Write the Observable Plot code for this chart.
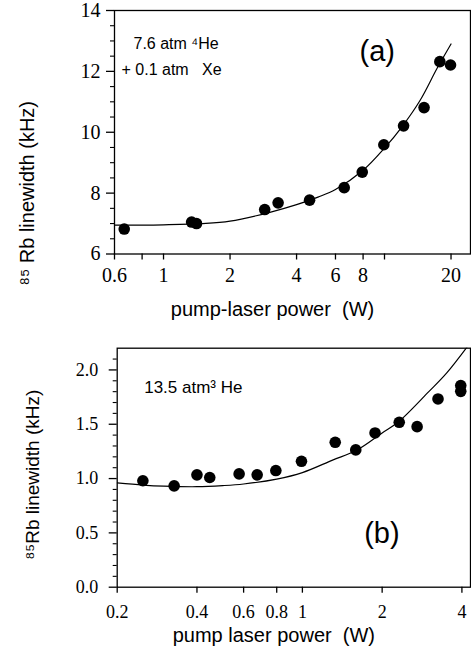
<!DOCTYPE html>
<html>
<head>
<meta charset="utf-8">
<script src="https://cdn.jsdelivr.net/npm/d3@7"></script>
<script src="https://cdn.jsdelivr.net/npm/@observablehq/plot@0.6"></script>
<style>
  html, body { margin: 0; padding: 0; background: #fff; }
  #chart { width: 471px; }
  svg { display: block; }
</style>
</head>
<body>
<div id="chart"></div>
<script>
// ---------- Panel (a) ----------
const powerA = [0.664, 1.34, 1.41, 2.87, 3.30, 4.58, 6.57, 7.93, 9.93, 12.2, 15.1, 17.8, 19.9];
const widthA = [6.82, 7.05, 7.00, 7.46, 7.68, 7.77, 8.18, 8.69, 9.59, 10.21, 10.81, 12.32, 12.21];
const fitPowerA = [0.6, 0.8, 1, 1.5, 2, 3, 4, 5, 6, 8, 10, 12, 14.5, 17.3, 20];
const fitWidthA = [6.95, 6.95, 6.96, 7.0, 7.08, 7.36, 7.62, 7.87, 8.12, 8.75, 9.48, 10.18, 11.05, 12.1, 12.9];
const xTicksA = [0.6, 0.8, 1, 2, 4, 6, 8, 10, 20];
const xLabelsA = [0.6, 1, 2, 4, 6, 8, 20];
const yMajorA = [6, 8, 10, 12, 14];
const yMinorA = [6.5, 7, 7.5, 8.5, 9, 9.5, 10.5, 11, 11.5, 12.5, 13, 13.5];

// ---------- Panel (b) ----------
const powerB = [0.25, 0.328, 0.40, 0.447, 0.577, 0.675, 0.794, 0.992, 1.33, 1.59, 1.88, 2.32, 2.71, 3.25, 3.96, 3.96];
const widthB = [0.98, 0.933, 1.034, 1.01, 1.043, 1.034, 1.074, 1.159, 1.334, 1.264, 1.42, 1.518, 1.478, 1.733, 1.856, 1.803];
const fitPowerB = [0.2, 0.25, 0.3, 0.4, 0.5, 0.6, 0.8, 1, 1.3, 1.6, 2, 2.3, 3, 3.5, 4.3];
const fitWidthB = [0.96, 0.94, 0.93, 0.925, 0.935, 0.95, 0.995, 1.055, 1.17, 1.26, 1.42, 1.52, 1.8, 1.97, 2.25];
const xTicksB = [0.2, 0.4, 0.6, 0.8, 1, 2, 4];
const xLabelsB = [0.2, 0.4, 0.6, 0.8, 1, 2, 4];
const yMajorB = [0, 0.5, 1.0, 1.5, 2.0];
const yMinorB = [0.1, 0.2, 0.3, 0.4, 0.6, 0.7, 0.8, 0.9, 1.1, 1.2, 1.3, 1.4, 1.6, 1.7, 1.8, 1.9, 2.1];

const yTitleA = "\u2078\u2075 Rb linewidth (kHz)";
const yTitleB = "\u2078\u2075Rb linewidth (kHz)";
const xTitleA = "pump-laser power  (W)";
const xTitleB = "pump laser power  (W)";
const noteA1 = "7.6 atm \u2074He";
const noteA2 = "+ 0.1 atm   Xe";
const noteB = "13.5 atm\u00B3 He";

const ptsA = powerA.map((p, i) => ({p, w: widthA[i]}));
const fitA = fitPowerA.map((p, i) => ({p, w: fitWidthA[i]}));
const ptsB = powerB.map((p, i) => ({p, w: widthB[i]}));
const fitB = fitPowerB.map((p, i) => ({p, w: fitWidthB[i]}));

const SANS = "'Liberation Sans', Arial, Helvetica, sans-serif";
const SERIF = "'Liberation Serif', 'Times New Roman', 'DejaVu Serif', serif";

const chartA = Plot.plot({
  width: 471, height: 322,
  marginTop: 10, marginBottom: 68.5, marginLeft: 114, marginRight: 1,
  x: {type: "log", domain: [0.6, 24.5], label: null},
  y: {domain: [6, 14], label: null},
  style: {fontFamily: SERIF, fontSize: "18px", color: "black", background: "white", overflow: "visible"},
  marks: [
    Plot.frame({stroke: "black", strokeWidth: 1.3}),
    Plot.axisY(yMinorA, {tickSize: 4, fill: "none", strokeWidth: 1.1}),
    Plot.axisY(yMajorA, {tickSize: 8, fill: "none", strokeWidth: 1.3}),
    Plot.axisX(xTicksA, {tickSize: 6, fill: "none", strokeWidth: 1.3}),
    Plot.text(yMajorA, {y: d => d, text: d => String(d), frameAnchor: "left", textAnchor: "end", dx: -14,
      fontFamily: SERIF, fontSize: 20}),
    Plot.text(xLabelsA, {x: d => d, text: d => String(d), frameAnchor: "bottom", lineAnchor: "top", dy: 14,
      fontFamily: SERIF, fontSize: 20}),
    Plot.line(fitA, {x: "p", y: "w", curve: "catmull-rom", stroke: "black", strokeWidth: 1.2, clip: true}),
    Plot.dot(ptsA, {x: "p", y: "w", r: 5.8, fill: "black", stroke: "none"}),
    Plot.text([yTitleA], {frameAnchor: "left", dx: -87, dy: 61, rotate: -90, textAnchor: "middle",
      fontFamily: SANS, fontSize: 20}),
    Plot.text([xTitleA], {frameAnchor: "bottom", dx: -20, dy: 62, fontFamily: SANS, fontSize: 20}),
    Plot.text([noteA1], {frameAnchor: "top-left", dx: 19, dy: 27, textAnchor: "start", fontFamily: SANS, fontSize: 16}),
    Plot.text([noteA2], {frameAnchor: "top-left", dx: 7, dy: 53, textAnchor: "start", fontFamily: SANS, fontSize: 16}),
    Plot.text(["(a)"], {frameAnchor: "top-left", dx: 245, dy: 30, fontFamily: SANS, fontSize: 29})
  ]
});

const chartB = Plot.plot({
  width: 471, height: 330,
  marginTop: 25.7, marginBottom: 65.3, marginLeft: 116.7, marginRight: 1,
  x: {type: "log", domain: [0.2, 4.31], label: null},
  y: {domain: [0, 2.2], label: null},
  style: {fontFamily: SERIF, fontSize: "17px", color: "black", background: "white", overflow: "visible"},
  marks: [
    Plot.frame({stroke: "black", strokeWidth: 1.3}),
    Plot.axisY(yMinorB, {tickSize: 4, fill: "none", strokeWidth: 1.1}),
    Plot.axisY(yMajorB, {tickSize: 8, fill: "none", strokeWidth: 1.3}),
    Plot.axisX(xTicksB, {tickSize: 6, fill: "none", strokeWidth: 1.3}),
    Plot.text(yMajorB, {y: d => d, text: d => d.toFixed(1), frameAnchor: "left", textAnchor: "end", dx: -19,
      fontFamily: SERIF, fontSize: 18}),
    Plot.text(xLabelsB, {x: d => d, text: d => String(d), frameAnchor: "bottom", lineAnchor: "top", dy: 18,
      fontFamily: SERIF, fontSize: 18}),
    Plot.line(fitB, {x: "p", y: "w", curve: "catmull-rom", stroke: "black", strokeWidth: 1.2, clip: true}),
    Plot.dot(ptsB, {x: "p", y: "w", r: 5.8, fill: "black", stroke: "none"}),
    Plot.text([yTitleB], {frameAnchor: "left", dx: -84.7, dy: 7, rotate: -90, textAnchor: "middle",
      fontFamily: SANS, fontSize: 19}),
    Plot.text([xTitleB], {frameAnchor: "bottom", dx: -20, dy: 55, fontFamily: SANS, fontSize: 20}),
    Plot.text([noteB], {frameAnchor: "top-left", dx: 27, dy: 33, textAnchor: "start", fontFamily: SANS, fontSize: 17}),
    Plot.text(["(b)"], {frameAnchor: "top-left", dx: 247, dy: 174, fontFamily: SANS, fontSize: 29})
  ]
});

document.getElementById("chart").append(chartA, chartB);
</script>
</body>
</html>
